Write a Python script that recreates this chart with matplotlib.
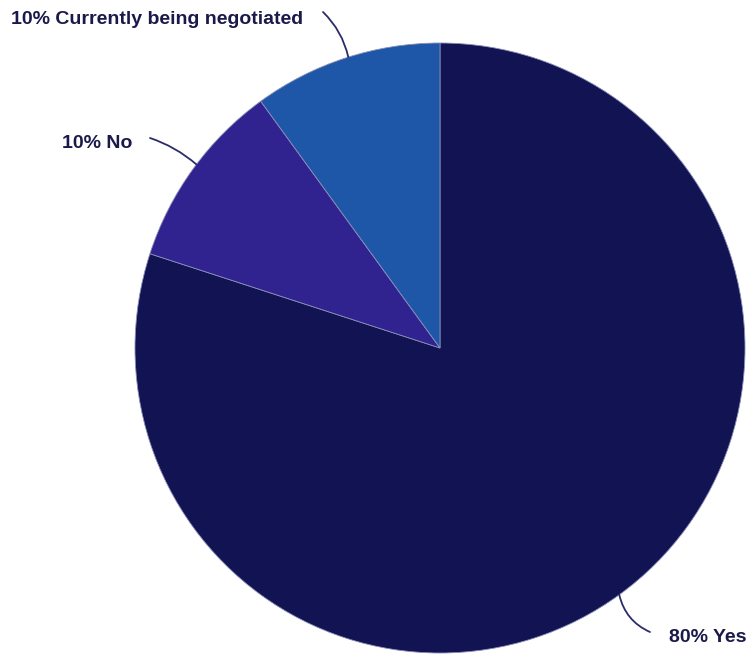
import matplotlib.pyplot as plt
import numpy as np

labels = ['Yes', 'No', 'Currently being negotiated']
values = [80, 10, 10]
colors = ['#111353', '#30228F', '#1F57A8']

plt.rcParams['font.family'] = ['Liberation Sans', 'DejaVu Sans']

fig = plt.figure(figsize=(7.54, 6.54), dpi=100)
ax = fig.add_axes([0, 0, 1, 1])

# pie drawn in pixel-like coordinates so it lands where the reference has it
cx, cy, r = 440, 306, 305
wedges, _ = ax.pie(values, colors=colors, startangle=90, counterclock=False,
                   center=(cx, cy), radius=r,
                   wedgeprops=dict(edgecolor='#8a8fb8', linewidth=0.6))

# text position, leader start, angle where leader meets the rim, curvature
text_pos = [(669, 17), (62, 510), (11, 634)]
line_start = [(650, 22), (150, 516), (323, 642)]
rim_angle = [-54, 143, 107.5]
rads = [-0.25, -0.1, -0.15]
for v, lab, tp, ls, ang, rad in zip(values, labels, text_pos, line_start, rim_angle, rads):
    a = np.deg2rad(ang)
    xy = (cx + r * np.cos(a), cy + r * np.sin(a))
    ax.annotate('', xy=xy, xytext=ls,
                arrowprops=dict(arrowstyle='-', color='#2a2d6a', lw=1.3,
                                connectionstyle=f'arc3,rad={rad}', shrinkA=0, shrinkB=0))
    ax.text(tp[0], tp[1], f'{v}% {lab}', fontsize=14, fontweight='bold',
            color='#1a1a4a', ha='left', va='center')

ax.set_xlim(0, 754)
ax.set_ylim(0, 654)
ax.set_aspect('equal')
ax.axis('off')

plt.savefig('out.png', dpi=100)
